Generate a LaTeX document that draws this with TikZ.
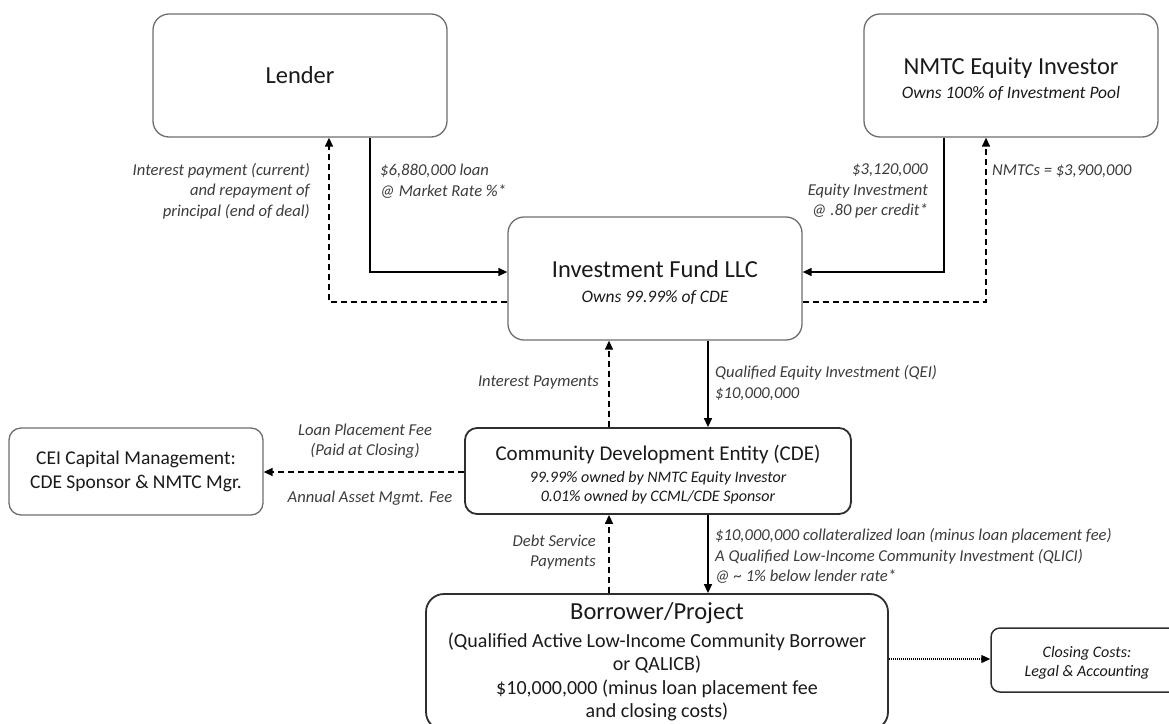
\documentclass[tikz,border=0pt]{standalone}
\usepackage{fontspec}
\setmainfont{Carlito}
\usetikzlibrary{arrows.meta}
\definecolor{boxgray}{HTML}{6E6E6E}
\definecolor{boxdark}{HTML}{2E2E2E}
\definecolor{txt}{HTML}{1A1A1A}
\definecolor{lbl}{HTML}{3C3C3C}
\tikzset{
  lightbox/.style={draw=boxgray, line width=1.3pt, fill=white, rounded corners=16pt, align=center, text=txt, inner sep=0pt},
  darkbox/.style={draw=boxdark, line width=1.8pt, fill=white, rounded corners=12pt, align=center, text=txt, inner sep=0pt},
  lab/.style={inner sep=0pt, text=lbl, font=\fontsize{16.6}{20.5}\selectfont\itshape},
  arr/.style={draw=black, line width=1.4pt, -{Triangle[length=9pt,width=8pt]}},
  dasharr/.style={draw=black, line width=1.4pt, dash pattern=on 6pt off 4pt, -{Triangle[length=9pt,width=8pt]}},
  dotarr/.style={draw=black, line width=1.3pt, dash pattern=on 1pt off 1pt, -{Triangle[length=9pt,width=8pt]}},
}
\newcommand{\bigt}{\fontsize{24.5}{28}\selectfont}
\newcommand{\subt}{\fontsize{17.5}{20}\selectfont\itshape}
\begin{document}
\begin{tikzpicture}[x=1pt, y=-1pt]
\useasboundingbox (0,0) rectangle (1169,723);
\clip (0,0) rectangle (1169,723);

% boxes
\node[lightbox, font=\bigt, minimum width=294pt, minimum height=123pt] (lender) at (300,75.5) {Lender};
\node[lightbox, font=\subt, minimum width=294pt, minimum height=123pt] (nmtc) at (1011,75.5)
  {\rule{0pt}{24pt}\bigt\upshape NMTC Equity Investor\\[4pt]Owns 100\% of Investment Pool};
\node[lightbox, font=\subt, minimum width=294pt, minimum height=123pt] (fund) at (655,278.5)
  {\rule{0pt}{26pt}\bigt\upshape Investment Fund LLC\\[5pt]Owns 99.99\% of CDE};
\node[darkbox, font=\fontsize{16}{18.5}\selectfont\itshape, minimum width=386pt, minimum height=86pt] (cde) at (658,471)
  {\rule{0pt}{22pt}\fontsize{21}{23}\selectfont\upshape Community Development Entity (CDE)\\[4pt]99.99\% owned by NMTC Equity Investor\\0.01\% owned by CCML/CDE Sponsor};
\node[lightbox, font=\fontsize{19.5}{24}\selectfont, rounded corners=12pt, minimum width=254pt, minimum height=87pt] (cei) at (136,471.5)
  {CEI Capital Management:\\CDE Sponsor \& NMTC Mgr.};
\node[darkbox, font=\fontsize{20}{23.5}\selectfont, rounded corners=18pt, minimum width=462pt, minimum height=136pt] (borrower) at (657,662)
  {\bigt Borrower/Project\\[4pt](Qualified Active Low-Income Community Borrower\\or QALICB)\\\$10,000,000 (minus loan placement fee\\and closing costs)};
\node[darkbox, font=\fontsize{16}{19}\selectfont\itshape, line width=1.5pt, rounded corners=9pt, minimum width=192pt, minimum height=64pt] (closing) at (1087,660)
  {\rule{0pt}{16pt}Closing Costs:\\Legal \& Accounting};

% helper coordinates
\coordinate (sl) at (370,272);
\coordinate (dl) at (329,302);
\coordinate (sr) at (944,272);
\coordinate (dr) at (986,302);
\coordinate (c1) at (708,0);
\coordinate (c2) at (609,0);
\coordinate (cy) at (0,472);
\coordinate (dy) at (0,659);

% connectors
\draw[arr] (lender.south -| sl) |- (fund.west |- sl);
\draw[dasharr] (fund.west |- dl) -| (lender.south -| dl);
\draw[arr] (nmtc.south -| sr) |- (fund.east |- sr);
\draw[dasharr] (fund.east |- dr) -| (nmtc.south -| dr);
\draw[arr] (fund.south -| c1) -- (cde.north -| c1);
\draw[dasharr] (cde.north -| c2) -- (fund.south -| c2);
\draw[arr] (cde.south -| c1) -- (borrower.north -| c1);
\draw[dasharr] (borrower.north -| c2) -- (cde.south -| c2);
\draw[dasharr] (cde.west |- cy) -- (cei.east |- cy);
\draw[dotarr] (borrower.east |- dy) -- (closing.west |- dy);

% labels
\node[lab, anchor=east, align=right] (l1) at (310,191) {Interest payment (current)\\and repayment of\\principal (end of deal)};
\node[lab, anchor=west, align=left] (l2) at (380,181) {\$6,880,000 loan\\@ Market Rate \%*};
\node[lab, anchor=east, align=right] (l3) at (928,191) {\$3,120,000\\Equity Investment\\@ .80 per credit*};
\node[lab, anchor=west] (l4) at (992,171) {NMTCs = \$3,900,000};
\node[lab, anchor=east] (l5) at (599,383) {Interest Payments};
\node[lab, anchor=west, align=left] (l6) at (715,383) {Qualified Equity Investment (QEI)\\\$10,000,000};
\node[lab, align=center] (l7) at (365,441) {Loan Placement Fee\\(Paid at Closing)};
\node[lab] (l8) at (370,498) {Annual Asset Mgmt. Fee};
\node[lab, anchor=east, align=right] (l9) at (596,552) {Debt Service\\Payments};
\node[lab, anchor=west, align=left] (l10) at (715,556) {\$10,000,000 collateralized loan (minus loan placement fee)\\A Qualified Low-Income Community Investment (QLICI)\\@ \textasciitilde{} 1\% below lender rate*};
\end{tikzpicture}
\end{document}
